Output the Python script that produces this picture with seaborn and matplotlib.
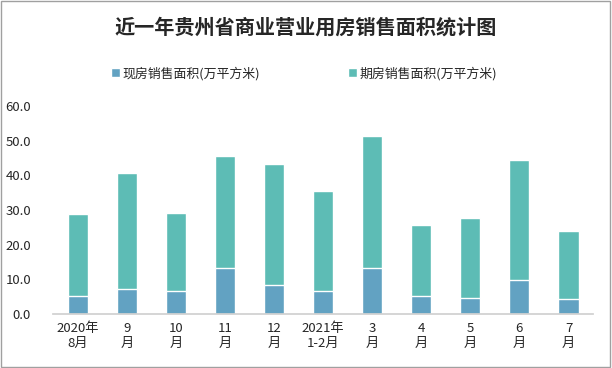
import matplotlib
matplotlib.use("Agg")
import matplotlib.pyplot as plt
import seaborn as sns
import pandas as pd
from matplotlib.patches import Rectangle

# --- Data ---
months = ["2020年\n8月", "9\n月", "10\n月", "11\n月", "12\n月", "2021年\n1-2月",
          "3\n月", "4\n月", "5\n月", "6\n月", "7\n月"]
spot = [5.2, 7.2, 6.6, 13.3, 8.4, 6.6, 13.3, 5.2, 4.6, 9.8, 4.3]
presale = [23.6, 33.5, 22.5, 32.3, 34.9, 28.9, 38.0, 20.5, 23.1, 34.6, 19.6]

df = pd.DataFrame({"month": months, "spot": spot, "presale": presale})
df["total"] = df["spot"] + df["presale"]

sns.set_theme(style="white")
plt.rcParams["font.family"] = ["Noto Sans CJK SC", "DejaVu Sans"]

c_spot = "#62A2C2"
c_pre = "#5DBCB5"

fig = plt.figure(figsize=(6.12, 3.68), dpi=100)
ax = fig.add_axes([0.087, 0.147, 0.882, 0.565])

# stacked bars: total first, spot on top of it
sns.barplot(data=df, x="month", y="total", color=c_pre, width=0.41,
            saturation=1, ax=ax, label="期房销售面积(万平方米)")
sns.barplot(data=df, x="month", y="spot", color=c_spot, width=0.41,
            saturation=1, ax=ax, label="现房销售面积(万平方米)")

ax.set_ylim(0, 60)
ax.set_yticks(range(0, 61, 10))
ax.set_yticklabels([f"{v:.1f}" for v in range(0, 61, 10)], fontsize=9.5)
ax.tick_params(axis="x", labelsize=9.5, length=0, pad=6)
ax.tick_params(axis="y", length=0, pad=16)
ax.set_xlabel("")
ax.set_ylabel("")
for s in ["top", "right", "left"]:
    ax.spines[s].set_visible(False)
ax.spines["bottom"].set_color("#D0D0D0")
ax.set_xlim(-0.5, len(months) - 0.5)

# legend in the order of the reference
handles, labels = ax.get_legend_handles_labels()
if ax.get_legend() is not None:
    ax.get_legend().remove()
order = [1, 0]
fig.legend([handles[i] for i in order], [labels[i] for i in order],
           loc="center", bbox_to_anchor=(0.497, 0.80), ncol=2, frameon=False,
           fontsize=9.3, handlelength=0.7, handleheight=0.7, handletextpad=0.2,
           columnspacing=6.8)

fig.text(0.5, 0.927, "近一年贵州省商业营业用房销售面积统计图", ha="center", va="center",
         fontsize=14.5, fontweight="bold")

fig.patches.append(Rectangle((0.002, 0.003), 0.995, 0.994, transform=fig.transFigure,
                             fill=False, edgecolor="#A0A0A0", linewidth=1))

fig.savefig("out.png", dpi=100)
